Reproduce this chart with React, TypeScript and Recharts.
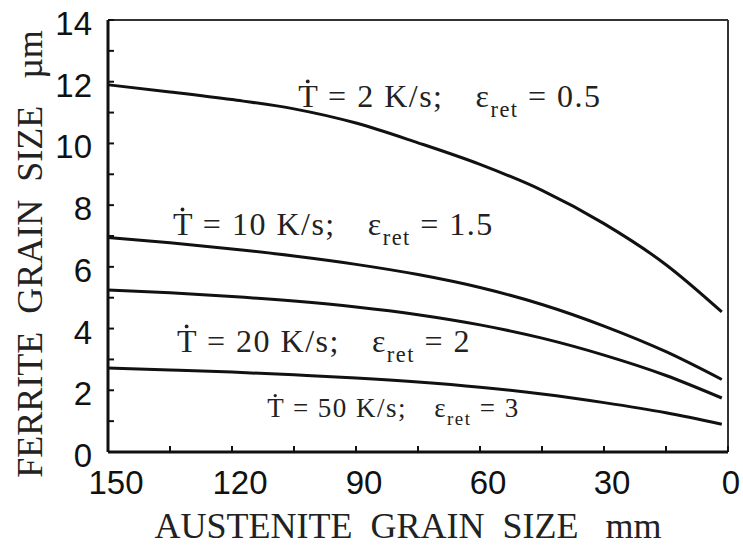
import { LineChart, Line, XAxis, YAxis, ReferenceDot, ReferenceLine } from 'recharts';

// austenite grain size (mm) and ferrite grain size (µm) per cooling rate
const austeniteSize = [150, 135, 120, 105, 90, 75, 60, 45, 30, 15, 1.5];
const ferrite2K = [11.9, 11.67, 11.42, 11.12, 10.66, 10.02, 9.32, 8.48, 7.4, 6.07, 4.54];
const ferrite10K = [6.95, 6.78, 6.58, 6.35, 6.08, 5.75, 5.33, 4.78, 4.08, 3.25, 2.35];
const ferrite20K = [5.25, 5.16, 5.04, 4.89, 4.7, 4.45, 4.12, 3.69, 3.14, 2.48, 1.75];
const ferrite50K = [2.72, 2.66, 2.59, 2.5, 2.4, 2.27, 2.1, 1.88, 1.6, 1.27, 0.9];

const coolingRates = ['2', '10', '20', '50'];
const retainedStrains = ['0.5', '1.5', '2', '3'];

const xTicks = [150, 135, 120, 105, 90, 75, 60, 45, 30, 15, 0];
const xTickLabels = [150, 120, 90, 60, 30, 0];
const yTicks = [0, 1, 2, 3, 4, 5, 6, 7, 8, 9, 10, 11, 12, 13, 14];
const yTickLabels = [0, 2, 4, 6, 8, 10, 12, 14];

const data = austeniteSize.map((d, i) => ({
  d,
  r2: ferrite2K[i],
  r10: ferrite10K[i],
  r20: ferrite20K[i],
  r50: ferrite50K[i],
}));

// where each curve note starts (data units: mm, µm)
const notes = [
  { x: 104, y: 11.18, size: 32 },
  { x: 134.3, y: 7.03, size: 32 },
  { x: 133.3, y: 3.24, size: 32 },
  { x: 111.5, y: 1.13, size: 27 },
];

const SERIF = '"Liberation Serif", "DejaVu Serif", serif';
const SANS = '"Liberation Sans", Arial, sans-serif';
const INK = '#111';

const XTick = (props: any) => {
  const { x, y, payload } = props;
  const major = xTickLabels.includes(payload.value);
  const shift = payload.value === 0 ? 3 : 8;
  return (
    <g>
      <line x1={x} x2={x} y1={y} y2={y - 6} stroke={INK} strokeWidth={2} />
      {major && (
        <text x={x + shift} y={y + 42} textAnchor="middle" fontFamily={SANS} fontSize={33} fill={INK}>
          {payload.value}
        </text>
      )}
    </g>
  );
};

const YTick = (props: any) => {
  const { x, y, payload } = props;
  const major = yTickLabels.includes(payload.value);
  return (
    <g>
      <line x1={x} x2={x + 6} y1={y} y2={y} stroke={INK} strokeWidth={2} />
      {major && (
        <text x={x - 16} y={y + 15} textAnchor="end" fontFamily={SANS} fontSize={33} fill={INK}>
          {payload.value}
        </text>
      )}
    </g>
  );
};

// "T-dot = rate; eps_ret = strain", the dot over the T drawn as a small circle
const noteContent = (rate: string, strain: string, size: number) => (props: any) => {
  const { x, y } = props.viewBox;
  return (
    <g fill="#222">
      <circle cx={x + size * 0.3} cy={y - size * 0.8} r={size * 0.06} />
      <text x={x} y={y} fontFamily={SERIF} fontSize={size} letterSpacing={1.5}>
        <tspan>{`T = ${rate} K/s;`}</tspan>
        <tspan dx={size}>ε</tspan>
        <tspan dy={size * 0.3} fontSize={size * 0.7}>ret</tspan>
        <tspan dy={-size * 0.3}>{`\u00a0= ${strain}`}</tspan>
      </text>
    </g>
  );
};

const XTitle = (props: any) => {
  const { x, y, width } = props.viewBox;
  return (
    <text x={x + width / 2 - 10} y={y + 86} textAnchor="middle" fontFamily={SERIF} fontSize={36} fill="#222">
      {'AUSTENITE\u00a0\u00a0GRAIN\u00a0\u00a0SIZE\u00a0\u00a0\u00a0mm'}
    </text>
  );
};

const YTitle = (props: any) => {
  const { y, height } = props.viewBox;
  const cx = 42;
  const cy = y + height / 2 + 18;
  return (
    <text
      x={cx}
      y={cy}
      transform={`rotate(-90, ${cx}, ${cy})`}
      textAnchor="middle"
      fontFamily={SERIF}
      fontSize={36}
      fill="#222"
    >
      {'FERRITE\u00a0\u00a0GRAIN\u00a0\u00a0SIZE\u00a0\u00a0\u00a0µm'}
    </text>
  );
};

export default function App() {
  const series = ['r2', 'r10', 'r20', 'r50'];
  return (
    <div style={{ position: 'absolute', left: 0, top: 0, background: '#fff' }}>
      <LineChart width={743} height={546} data={data} margin={{ top: 20, right: 15, left: 0, bottom: 0 }}>
        <XAxis
          dataKey="d"
          type="number"
          domain={[0, 150]}
          reversed
          ticks={xTicks}
          interval={0}
          height={94}
          tickSize={0}
          tickMargin={0}
          tickLine={false}
          tick={<XTick />}
          axisLine={{ stroke: INK, strokeWidth: 3 }}
          label={{ content: XTitle }}
        />
        <YAxis
          type="number"
          domain={[0, 14]}
          ticks={yTicks}
          interval={0}
          width={108}
          tickSize={0}
          tickMargin={0}
          tickLine={false}
          tick={<YTick />}
          axisLine={{ stroke: INK, strokeWidth: 3 }}
          label={{ content: YTitle }}
        />
        <ReferenceLine y={14} stroke="#333" strokeWidth={2} />
        <ReferenceLine x={0} stroke="#333" strokeWidth={2} />
        {series.map((key) => (
          <Line
            key={key}
            dataKey={key}
            type="monotone"
            stroke={INK}
            strokeWidth={3}
            dot={false}
            isAnimationActive={false}
          />
        ))}
        {notes.map((n, i) => (
          <ReferenceDot
            key={`note-${i}`}
            x={n.x}
            y={n.y}
            r={0}
            stroke="none"
            fill="none"
            label={{ content: noteContent(coolingRates[i], retainedStrains[i], n.size) }}
          />
        ))}
      </LineChart>
    </div>
  );
}
